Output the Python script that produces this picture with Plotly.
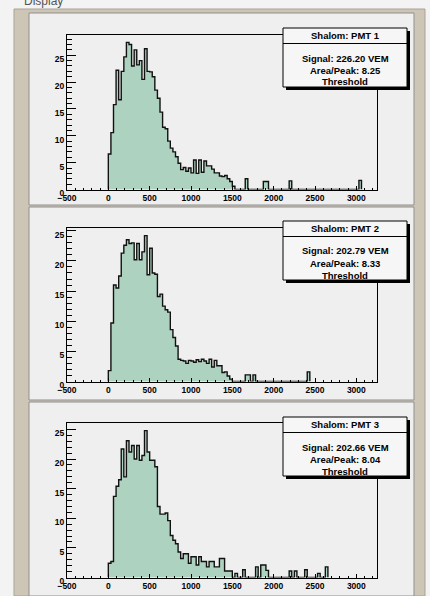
import plotly.graph_objects as go

# ---------------------------------------------------------------- data
BIN_WIDTH = 31.25          # histogram bin width, first bin starts at 0
X_RANGE = [-500, 3250]

pmt1_counts = [
    6.6, 10.6, 15.8, 22.2, 16.7, 22.0, 24.7, 27.4, 27.0, 23.0,
    26.0, 23.2, 24.0, 20.5, 26.2, 22.0, 21.9, 21.0, 18.5, 17.0,
    14.4, 11.6, 11.3, 9.0, 7.7, 7.0, 6.1, 4.9, 3.7, 4.1,
    3.4, 4.0, 3.1, 5.5, 3.0, 5.5, 3.2, 5.3, 4.4, 4.4,
    3.8, 3.1, 3.1, 2.5, 2.4, 2.6, 2.0, 1.5, 0.6, 0,
    0, 0, 0, 2.0, 0, 0, 0, 0, 0, 0,
    1.5, 1.5, 0, 0, 0, 0, 0, 0, 0, 0,
    1.6, 0, 0, 0, 0, 0, 0, 0, 0, 0,
    0, 0, 0, 0, 0, 0, 0, 0, 0, 0,
    0, 0, 0, 0, 0, 0, 0, 1.7,
]

pmt2_counts = [
    1.8, 9.7, 16.0, 15.5, 17.5, 21.3, 22.6, 23.5, 22.9, 23.0,
    20.2, 22.9, 20.2, 21.5, 24.2, 17.7, 22.1, 18.0, 17.8, 14.1,
    14.5, 12.5, 11.9, 11.5, 8.6, 7.3, 5.9, 3.7, 3.5, 3.4,
    3.0, 3.5, 3.4, 3.2, 3.6, 3.3, 3.7, 3.4, 3.0, 3.7,
    2.4, 3.5, 2.6, 2.6, 1.5, 1.6, 0.9, 0.4, 0, 0,
    0, 0, 0, 1.1, 1.1, 0, 1.1, 0, 0, 0,
    0, 0, 0, 0, 0, 0, 0, 0, 0, 0,
    0, 0, 0, 0, 0, 0, 0, 1.6,
]

pmt3_counts = [
    2.4, 2.7, 13.7, 15.4, 16.5, 21.7, 17.0, 23.1, 21.2, 22.3,
    20.0, 22.3, 19.8, 20.6, 24.8, 21.2, 19.8, 19.8, 18.7, 12.0,
    10.7, 10.7, 10.9, 9.6, 7.1, 6.3, 5.7, 4.3, 3.2, 4.0,
    4.0, 2.4, 3.5, 3.5, 2.1, 3.5, 2.7, 2.7, 1.8, 2.7,
    2.7, 1.8, 1.8, 3.2, 3.2, 1.1, 1.1, 1.1, 0, 0.7,
    0, 0, 1.3, 0, 0, 0, 0, 1.8, 0, 2.1,
    2.1, 1.2, 0, 0, 0, 0, 0, 0, 0, 0,
    1.1, 0, 1.1, 0, 0, 0, 1.3, 0, 0, 0,
    0, 0.7, 0, 0, 1.8,
]

pmt_titles = ["Shalom: PMT 1", "Shalom: PMT 2", "Shalom: PMT 3"]
signal_vem = [226.20, 202.79, 202.66]
area_peak = [8.25, 8.33, 8.04]
status_line = ["Threshold", "Threshold", "Threshold"]

x_tick_vals = [-500, 0, 500, 1000, 1500, 2000, 2500, 3000]
y_tick_vals = [0, 5, 10, 15, 20, 25]

# ---------------------------------------------------------------- style
W, H = 430, 596
PAGE_BG = "#f3f3f3"
FRAME_BG = "#cdc6b6"
PAD_BG = "#efefef"
PAD_LINE = "#8f8f8f"
FILL = "#aed2c0"
FONT = "Liberation Sans"

# pads (top, bottom in px) and plot frames (top, bottom in px)
pads = [(13, 205), (207, 400), (402, 596)]
frames = [(35, 189.5), (228.3, 381.5), (423.3, 577.5)]
frame_x = (67, 377)
stat_boxes = [28, 221, 417]          # top edge of each stats box, px
STAT_X0, STAT_X1 = 283, 407


def fx(px):
    return px / W


def fy(py):
    return 1 - py / H


fig = go.Figure()

all_counts = [pmt1_counts, pmt2_counts, pmt3_counts]
tick_font = dict(family=FONT, size=8.5, color="black", weight="bold")

for i, counts in enumerate(all_counts):
    n = len(counts)
    edges = [k * BIN_WIDTH for k in range(n + 1)]
    xs = [edges[0]] + edges[:n] + [edges[n]]
    ys = [0] + list(counts) + [0]
    sfx = "" if i == 0 else str(i + 1)
    fig.add_trace(go.Scatter(
        x=xs, y=ys, mode="lines", line_shape="hv",
        line=dict(color="#111111", width=1.4),
        fill="tozeroy", fillcolor=FILL,
        xaxis="x" + sfx, yaxis="y" + sfx,
        showlegend=False, hoverinfo="skip",
    ))
    top, bot = frames[i]
    fig.layout["xaxis" + sfx] = dict(
        domain=[fx(frame_x[0]), fx(frame_x[1])], range=X_RANGE,
        anchor="y" + sfx, showline=True, mirror=True, linecolor="black",
        linewidth=1, showgrid=False, zeroline=False, automargin=False,
        ticks="inside", tickvals=x_tick_vals, ticklen=4, tickcolor="black",
        tickwidth=1, ticklabelstandoff=0,
        minor=dict(dtick=100, tick0=-500, ticks="inside", ticklen=2,
                   tickcolor="black", showgrid=False),
        tickfont=tick_font, fixedrange=True,
    )
    fig.layout["yaxis" + sfx] = dict(
        domain=[fy(bot), fy(top)], range=[0, 1.05 * max(counts)],
        anchor="x" + sfx, showline=True, mirror=True, linecolor="black",
        linewidth=1, showgrid=False, zeroline=False, automargin=False,
        ticks="inside", tickvals=y_tick_vals, ticklen=9, tickcolor="black",
        tickwidth=1, ticklabelshift=4,
        minor=dict(dtick=1, tick0=0, ticks="inside", ticklen=4.5,
                   tickcolor="black", showgrid=False),
        tickfont=tick_font, fixedrange=True,
    )

shapes = []
# window frame
shapes.append(dict(type="rect", xref="paper", yref="paper", layer="below",
                   x0=fx(14), x1=fx(425), y0=fy(596), y1=fy(9),
                   fillcolor=FRAME_BG, line=dict(color="#a9a396", width=1)))
# pads
for top, bot in pads:
    shapes.append(dict(type="rect", xref="paper", yref="paper", layer="below",
                       x0=fx(29), x1=fx(414), y0=fy(bot), y1=fy(top),
                       fillcolor=PAD_BG, line=dict(color=PAD_LINE, width=1)))

annotations = [dict(text="Display", xref="paper", yref="paper",
                    x=fx(22), y=fy(0.5), xanchor="left", yanchor="middle",
                    showarrow=False,
                    font=dict(family=FONT, size=12, color="#555555"))]

# statistics boxes
for i, top in enumerate(stat_boxes):
    bottom = top + 59
    sep = top + 15.5
    shapes.append(dict(type="rect", xref="paper", yref="paper", layer="above",
                       x0=fx(STAT_X0 + 3), x1=fx(STAT_X1 + 3),
                       y0=fy(bottom + 3), y1=fy(top + 3),
                       fillcolor="black", line=dict(width=0)))
    shapes.append(dict(type="rect", xref="paper", yref="paper", layer="above",
                       x0=fx(STAT_X0), x1=fx(STAT_X1),
                       y0=fy(bottom), y1=fy(top),
                       fillcolor="#f6f6f6", line=dict(color="black", width=1)))
    shapes.append(dict(type="line", xref="paper", yref="paper", layer="above",
                       x0=fx(STAT_X0), x1=fx(STAT_X1), y0=fy(sep), y1=fy(sep),
                       line=dict(color="black", width=1)))
    cx = fx((STAT_X0 + STAT_X1) / 2)
    lines = [
        (pmt_titles[i], top + 7.5),
        (f"Signal: {signal_vem[i]:.2f} VEM", top + 30),
        (f"Area/Peak: {area_peak[i]:.2f}", top + 42),
        (status_line[i], top + 54),
    ]
    for text, ypx in lines:
        annotations.append(dict(
            text=text, xref="paper", yref="paper", x=cx, y=fy(ypx),
            xanchor="center", yanchor="middle", showarrow=False,
            font=dict(family=FONT, size=9.5, color="black", weight="bold")))

fig.update_layout(
    width=W, height=H,
    margin=dict(l=0, r=0, t=0, b=0),
    paper_bgcolor=PAGE_BG, plot_bgcolor=PAD_BG,
    shapes=shapes, annotations=annotations,
    showlegend=False,
)

fig.write_html("out.html")
